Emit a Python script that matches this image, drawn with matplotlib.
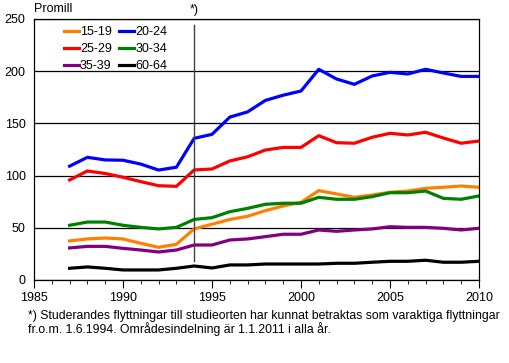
import matplotlib
matplotlib.use("Agg")
import matplotlib.pyplot as plt
from matplotlib.ticker import MultipleLocator

plt.rcParams['font.family'] = ['Liberation Sans', 'DejaVu Sans']

years = list(range(1987, 2011))
labels = ['15-19', '20-24', '25-29', '30-34', '35-39', '60-64']
colors = ['#ff8000', '#0000ff', '#ff0000', '#008000', '#800080', '#000000']

v15_19 = [37.4, 39.3, 40.2, 39.3, 35.1, 31.3, 34.2, 48.9, 53.4, 58.0, 61.0, 66.4,
          70.9, 74.4, 85.6, 82.4, 79.2, 81.4, 84.0, 85.2, 87.8, 88.8, 90.0, 88.8]
v20_24 = [109, 117.5, 115, 114.7, 111, 105.3, 108, 135.7, 139.5, 156, 161, 172,
          177, 181, 201.8, 192.5, 187.4, 195.4, 198.9, 197.3, 201.8, 198.3, 195, 195]
v25_29 = [95.8, 104.4, 102, 98.4, 94.2, 90.3, 89.7, 105.4, 106.3, 114, 118, 124.5,
          127, 127, 138.2, 131.5, 131, 136.7, 140.5, 138.9, 141.5, 136, 131, 133.1]
v30_34 = [52.4, 55.5, 55.5, 52.4, 50.4, 48.9, 50.4, 58, 59.7, 65.4, 68.6, 72.5,
          73.5, 73.5, 79.2, 77.3, 77.3, 79.8, 83.6, 83.6, 85.2, 78.2, 77.3, 80.5]
v35_39 = [30.7, 32.2, 32.2, 30.3, 28.7, 26.8, 28.7, 33.5, 33.5, 38.3, 39.3, 41.5,
          43.8, 43.8, 47.9, 46.6, 47.9, 48.9, 51.0, 50.4, 50.4, 49.5, 47.9, 49.5]
v60_64 = [11.2, 12.5, 11.2, 9.6, 9.6, 9.6, 11.2, 13.4, 11.5, 14.4, 14.4, 15.3,
          15.3, 15.3, 15.3, 16.0, 16.0, 17.0, 17.9, 17.9, 18.9, 17.0, 17.0, 17.9]
series = [v15_19, v20_24, v25_29, v30_34, v35_39, v60_64]

fig = plt.figure(figsize=(5.09, 3.63), dpi=100)
ax = fig.add_axes([0.0668, 0.2287, 0.8742, 0.719])

lines = {}
for lab, col, vals in zip(labels, colors, series):
    ln, = ax.plot(years, vals, color=col, linewidth=2.3, label=lab)
    lines[lab] = ln

# vertical marker at 1994
ax.plot([1994, 1994], [18.5, 244], color='#404040', linewidth=1)
ax.text(1994, 253, '*)', ha='center', va='bottom', fontsize=9)

ax.set_xlim(1985, 2010)
ax.set_ylim(0, 250)
ax.xaxis.set_major_locator(MultipleLocator(5))
ax.xaxis.set_minor_locator(MultipleLocator(1))
ax.yaxis.set_major_locator(MultipleLocator(50))
ax.tick_params(axis='x', which='major', length=6, direction='out', labelsize=9, pad=3)
ax.tick_params(axis='x', which='minor', length=3, direction='out')
ax.tick_params(axis='y', length=0, labelsize=9, pad=6)
ax.grid(axis='y', color='black', linewidth=0.9)
ax.set_axisbelow(True)
for sp in ax.spines.values():
    sp.set_linewidth(0.9)

ax.text(0, 1.015, 'Promill', transform=ax.transAxes, fontsize=9, va='bottom')

order = ['15-19', '25-29', '35-39', '20-24', '30-34', '60-64']
ax.legend([lines[k] for k in order], order, ncol=2, loc='upper left',
          bbox_to_anchor=(0.05, 1.0), frameon=False, fontsize=9,
          handlelength=1.2, handletextpad=0.1, columnspacing=0.6,
          labelspacing=0.4, borderaxespad=0.2)

fig.text(0.055, 0.145,
         '*) Studerandes flyttningar till studieorten har kunnat betraktas som varaktiga flyttningar\n'
         'fr.o.m. 1.6.1994. Områdesindelning är 1.1.2011 i alla år.',
         fontsize=8.8, va='top', linespacing=1.0)

fig.savefig('out.png', dpi=100)
